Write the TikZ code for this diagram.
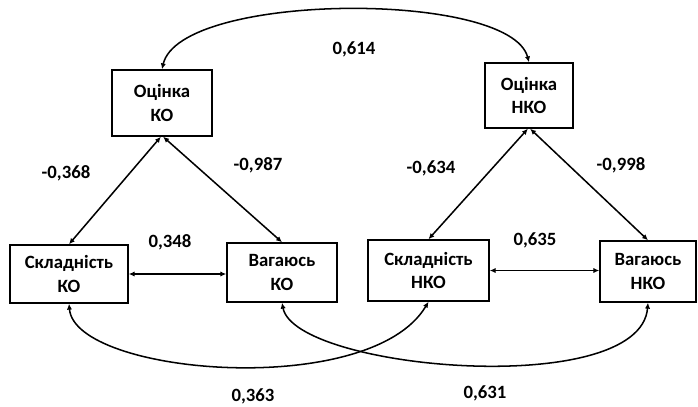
\documentclass[tikz,border=0pt]{standalone}
\usepackage{fontspec}
\setmainfont{Carlito}
\usetikzlibrary{arrows.meta}
\begin{document}
\begin{tikzpicture}[
	                 x = 0.03cm,
	                 y = -0.03cm,
	   every node/.style = {font=\fontsize{16}{20}\selectfont\bfseries},
	          box/.style = {draw, line width=1.3pt, align=center, inner sep=0pt},
	         corr/.style = {{Latex[length=5pt,width=4.5pt]}-{Latex[length=5pt,width=4.5pt]}, line width=1.3pt}
	                   ]
	\useasboundingbox (0,0) rectangle (698,406);
	% boxes
	\node[box, minimum width=3cm,    minimum height=1.98cm] (ocKO)   at (162,103)   {Оцінка\\КО};
	\node[box, minimum width=2.64cm, minimum height=1.95cm] (ocNKO)  at (529,95.5)  {Оцінка\\НКО};
	\node[box, minimum width=3.54cm, minimum height=1.74cm] (sklKO)  at (69,274)    {Складність\\КО};
	\node[box, minimum width=3.3cm,  minimum height=1.77cm] (vagKO)  at (282,272.5) {Вагаюсь\\КО};
	\node[box, minimum width=3.63cm, minimum height=1.83cm] (sklNKO) at (428.5,270.5) {Складність\\НКО};
	\node[box, minimum width=2.88cm, minimum height=1.83cm] (vagNKO) at (648,271.5) {Вагаюсь\\НКО};
	% correlations
	\draw[corr] (ocKO.north) .. controls (180,-8) and (510,-10) .. (ocNKO.north);
	\draw[corr] ([xshift=-1pt]ocKO.south) -- (sklKO.north);
	\draw[corr] ([xshift=1pt]ocKO.south) -- (vagKO.north);
	\draw[corr] ([xshift=-1pt]ocNKO.south) -- (sklNKO.north);
	\draw[corr] ([xshift=1pt]ocNKO.south) -- (vagNKO.north);
	\draw[corr] (sklKO.east) -- (sklKO.east -| vagKO.west);
	\draw[corr] (sklNKO.east) -- (sklNKO.east -| vagNKO.west);
	\draw[corr] (sklKO.south) .. controls (75,375) and (370,400) .. (sklNKO.south);
	\draw[corr] (vagKO.south) .. controls (295,370) and (640,400) .. (vagNKO.south);
	% values
	\node (r1) at (354,49)  {0,614};
	\node (r2) at (66,173)  {-0,368};
	\node (r3) at (258,165) {-0,987};
	\node (r4) at (431,168) {-0,634};
	\node (r5) at (621,165) {-0,998};
	\node (r6) at (170,242) {0,348};
	\node (r7) at (535,240) {0,635};
	\node (r8) at (253,396) {0,363};
	\node (r9) at (485,393) {0,631};
\end{tikzpicture}
\end{document}
